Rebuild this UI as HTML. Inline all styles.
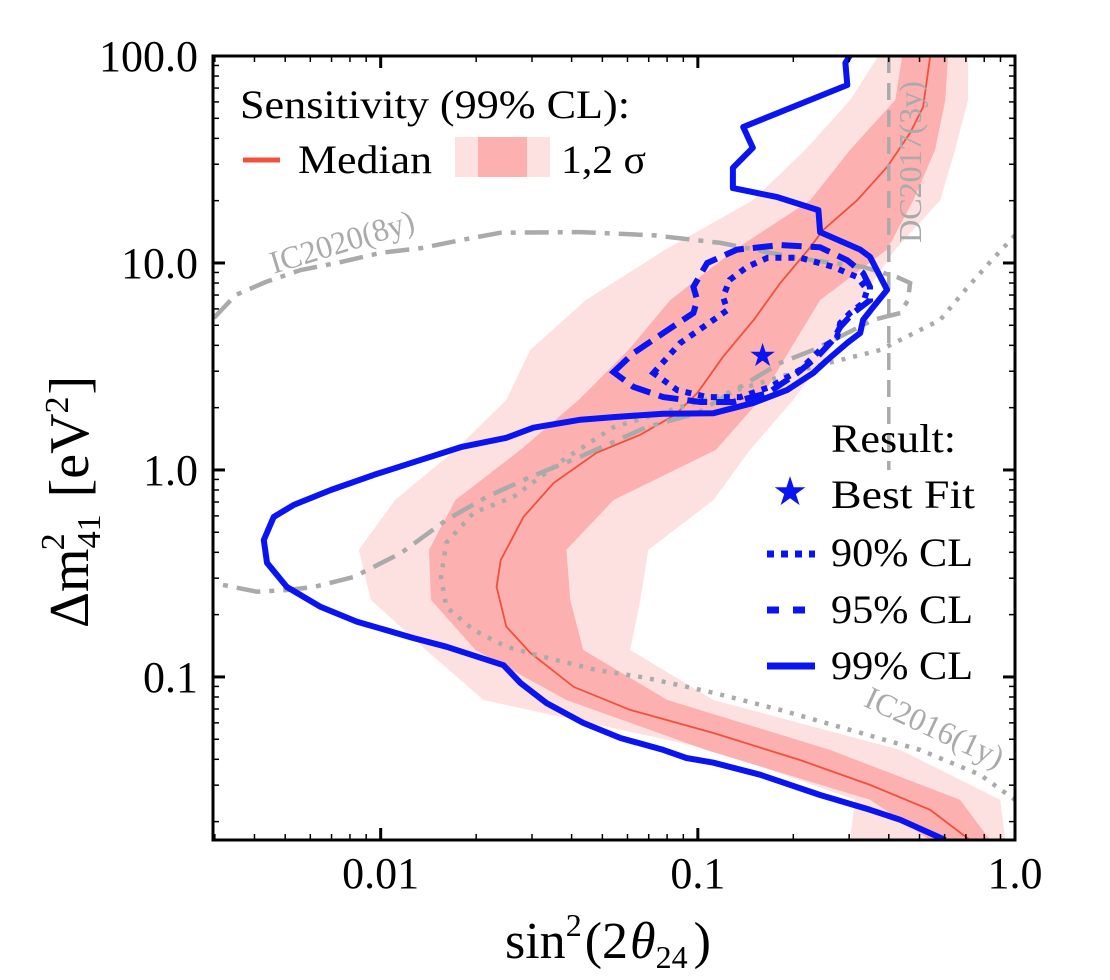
<!DOCTYPE html>
<html><head><meta charset="utf-8"><style>
html,body{margin:0;padding:0;background:#fff;}
svg{display:block;font-family:"Liberation Serif",serif;}
</style></head><body>
<svg id="chart" width="1110" height="980" viewBox="0 0 1110 980">
<defs><clipPath id="pc"><rect x="213" y="56" width="802" height="784"/></clipPath></defs>
<g id="plot" clip-path="url(#pc)"></g>
<g id="axes"></g>
<g id="legend1">
 <text x="240" y="118" font-size="40" textLength="390" lengthAdjust="spacingAndGlyphs">Sensitivity (99% CL):</text>
 <line x1="243" y1="160" x2="280" y2="160" stroke="#f0503c" stroke-width="5"/>
 <text x="298" y="173" font-size="40" textLength="134" lengthAdjust="spacingAndGlyphs">Median</text>
 <rect x="455" y="137" width="95" height="40" fill="#fde1e1"/>
 <rect x="478" y="137" width="49" height="40" fill="#fcb0b0"/>
 <text x="561" y="173" font-size="40" textLength="85" lengthAdjust="spacingAndGlyphs">1,2 σ</text>
</g>
<g id="legend2">
 <text x="831" y="452" font-size="40" textLength="125" lengthAdjust="spacingAndGlyphs">Result:</text>
 <text x="790" y="505" font-size="40" fill="#0a14f0" text-anchor="middle">★</text>
 <text x="831" y="508" font-size="40" textLength="144" lengthAdjust="spacingAndGlyphs">Best Fit</text>
 <line x1="767" y1="554" x2="815" y2="554" stroke="#0a14f0" stroke-width="7" stroke-dasharray="7 7"/>
 <text x="831" y="566" font-size="40" textLength="142" lengthAdjust="spacingAndGlyphs">90% CL</text>
 <line x1="767" y1="610" x2="815" y2="610" stroke="#0a14f0" stroke-width="7" stroke-dasharray="12 14"/>
 <text x="831" y="623" font-size="40" textLength="142" lengthAdjust="spacingAndGlyphs">95% CL</text>
 <line x1="767" y1="666" x2="815" y2="666" stroke="#0a14f0" stroke-width="7"/>
 <text x="831" y="679" font-size="40" textLength="142" lengthAdjust="spacingAndGlyphs">99% CL</text>
</g>
<text x="505" y="958" font-size="52">sin<tspan font-size="32" dy="-22">2</tspan><tspan dy="22" dx="3">(2</tspan><tspan font-style="italic" dx="2">θ</tspan><tspan font-size="32" dy="10">24</tspan><tspan dy="-10" dx="6">)</tspan></text>
<text transform="translate(88,628) rotate(-90)" font-size="56">Δm<tspan font-size="34" dy="12">41</tspan><tspan font-size="34" dx="-36" dy="-36">2</tspan><tspan dy="24" dx="36">[eV</tspan><tspan font-size="34" dy="-20">2</tspan><tspan dy="20" dx="2">]</tspan></text>
</svg>
<script>
// ---- data ----
const xMin = 0.00296, xMax = 1.0, yMin = 0.0163, yMax = 100;
const xTickValues = [0.01, 0.1, 1.0];
const xTickLabels = ["0.01", "0.1", "1.0"];
const yTickValues = [0.1, 1.0, 10.0, 100.0];
const yTickLabels = ["0.1", "1.0", "10.0", "100.0"];
// sensitivity bands: common dm2 levels with band edges in sin2
const bandY = [100,61.2,35.2,20.1,11.6,6.62,3.80,2.18,1.25,0.716,0.411,0.236,0.135,0.0774,0.0444,0.0255,0.0163];
const band2Lo = [0.371,0.302,0.218,0.149,0.0791,0.0443,0.0296,0.0249,0.0172,0.0111,0.00853,0.00931,0.0139,0.0211,0.112,0.313,0.302];
const band1Lo = [0.441,0.419,0.302,0.226,0.131,0.0818,0.0604,0.0421,0.0276,0.0172,0.0142,0.0144,0.0199,0.0385,0.106,0.349,0.540];
const band1Hi = [0.615,0.603,0.560,0.478,0.395,0.243,0.195,0.157,0.114,0.0542,0.0385,0.0396,0.0435,0.0802,0.261,0.671,0.834];
const band2Hi = [0.711,0.711,0.647,0.581,0.419,0.325,0.261,0.200,0.146,0.112,0.0698,0.0659,0.0612,0.112,0.435,0.898,0.931];
const medianX = [0.540,0.513,0.467,0.395,0.318,0.248,0.226,0.182,0.150,0.120,0.0995,0.0849,0.0659,0.0479,0.0351,0.0282,0.0239,0.0232,0.0249,0.0296,0.0406,0.0612,0.112,0.210,0.349,0.540,0.721];
const medianY = [98.9,56.7,42.5,29.1,20.1,14.4,11.9,8.00,5.31,3.52,2.35,1.85,1.48,1.21,0.865,0.593,0.367,0.272,0.175,0.131,0.0895,0.0693,0.0536,0.0397,0.0301,0.0228,0.0163];
const cl99X = [0.302,0.292,0.296,0.139,0.149,0.129,0.129,0.178,0.240,0.243,0.325,0.349,0.395,0.357,0.332,0.325,0.296,0.256,0.231,0.191,0.150,0.112,0.0778,0.0542,0.0427,0.0303,0.0249,0.0179,0.0127,0.00951,0.00696,0.00532,0.00460,0.00428,0.00438,0.00506,0.00647,0.00840,0.0127,0.0161,0.0244,0.0276,0.0333,0.0435,0.0570,0.0778,0.0920,0.112,0.157,0.243,0.349,0.435,0.603];
const cl99Y = [101,92.5,72.4,45.4,36.0,28.8,23.0,20.8,18.0,14.1,11.6,10.7,7.41,6.12,5.31,4.59,4.11,3.40,2.94,2.43,2.11,1.88,1.87,1.80,1.75,1.60,1.43,1.29,1.09,0.946,0.800,0.678,0.593,0.459,0.356,0.272,0.218,0.185,0.154,0.140,0.114,0.0935,0.0748,0.0600,0.0507,0.0444,0.0406,0.0385,0.0337,0.0269,0.0228,0.0204,0.0163];
const cl95X = [0.0542,0.0627,0.0778,0.0968,0.0995,0.0968,0.107,0.133,0.182,0.243,0.296,0.332,0.349,0.349,0.309,0.281,0.267,0.238,0.206,0.166,0.129,0.102,0.0778,0.0627];
const cl95Y = [2.97,3.67,4.59,5.73,6.62,7.66,10.0,11.6,12.2,11.9,10.3,8.95,7.66,6.62,5.73,4.91,4.25,3.52,2.94,2.35,2.13,2.13,2.25,2.52];
const cl90X = [0.0724,0.0881,0.112,0.124,0.120,0.126,0.143,0.166,0.210,0.267,0.318,0.342,0.332,0.302,0.281,0.275,0.243,0.210,0.169,0.136,0.107,0.0861];
const cl90Y = [2.94,4.11,5.31,5.93,6.85,8.28,9.57,10.6,10.6,9.57,8.55,7.41,6.41,5.73,5.13,4.39,3.80,3.04,2.52,2.25,2.25,2.43];
const bestFitX = 0.16, bestFitY = 3.6;
const ic2020X = [0.00298,0.00349,0.00434,0.00560,0.00748,0.0100,0.0134,0.0179,0.0239,0.0427,0.0724,0.118,0.169,0.231,0.332,0.425,0.467,0.460,0.435,0.357,0.296,0.231,0.182,0.136,0.0995,0.0689,0.0427,0.0296,0.0216,0.0161,0.0116,0.00822,0.00615,0.00506,0.00407,0.00298];
const ic2020Y = [5.42,7.00,8.09,9.25,10.1,11.2,11.8,12.9,14.0,14.1,13.6,12.5,11.2,10.3,9.57,8.55,8.00,6.62,5.73,5.31,4.59,3.80,3.29,2.52,1.88,1.61,1.16,0.925,0.741,0.573,0.397,0.304,0.272,0.263,0.258,0.284];
const ic2016X = [1.0,0.834,0.697,0.581,0.376,0.231,0.143,0.0881,0.0542,0.0377,0.0262,0.0196,0.0161,0.0155,0.0161,0.0196,0.0249,0.0333,0.0479,0.0689,0.112,0.182,0.302,0.502,0.776,1.0];
const ic2016Y = [13.6,10.1,7.41,5.31,3.80,3.15,2.52,2.01,1.61,1.12,0.741,0.620,0.444,0.304,0.218,0.169,0.140,0.124,0.108,0.0989,0.0838,0.0693,0.0555,0.0444,0.0337,0.0255];
const dc2017X = 0.4, dc2017Ytop = 100, dc2017Ybot = 1.0;

// ---- scales ----
const L=213,R=1015,T=56,B=840;
function sx(v){return L+(Math.log10(v)-Math.log10(xMin))/(Math.log10(xMax)-Math.log10(xMin))*(R-L);}
function sy(v){return B-(Math.log10(v)-Math.log10(yMin))/(Math.log10(yMax)-Math.log10(yMin))*(B-T);}
const NS="http://www.w3.org/2000/svg";
function mk(tag,attrs,parent){const e=document.createElementNS(NS,tag);for(const k in attrs)e.setAttribute(k,attrs[k]);parent.appendChild(e);return e;}
function pts(xs,ys){return xs.map((x,i)=>sx(x).toFixed(1)+","+sy(ys[i]).toFixed(1)).join(" ");}
const plot=document.getElementById('plot'), axes=document.getElementById('axes');

const b2 = mk('polygon',{points:pts(band2Lo,bandY)+" "+pts(band2Hi.slice().reverse(),bandY.slice().reverse()),fill:'#fde1e1'},plot);


const b1 = mk('polygon',{points:pts(band1Lo,bandY)+" "+pts(band1Hi.slice().reverse(),bandY.slice().reverse()),fill:'#fcb0b0'},plot);


const med = mk('polyline',{points:pts(medianX,medianY),fill:'none',stroke:'#f0503c','stroke-width':1.8},plot);


const dc = mk('line',{x1:sx(dc2017X),y1:sy(dc2017Ytop),x2:sx(dc2017X),y2:sy(dc2017Ybot),stroke:'#aaaaaa','stroke-width':3.5,'stroke-dasharray':'17 10'},plot);


const ic20 = mk('polyline',{points:pts(ic2020X,ic2020Y),fill:'none',stroke:'#aaaaaa','stroke-width':4.5,'stroke-dasharray':'24 9 5 9'},plot);


const ic16 = mk('polyline',{points:pts(ic2016X,ic2016Y),fill:'none',stroke:'#aaaaaa','stroke-width':4.5,'stroke-dasharray':'4 8'},plot);


const c99 = mk('polyline',{points:pts(cl99X,cl99Y),fill:'none',stroke:'#0a14f0','stroke-width':6,'stroke-linejoin':'round'},plot);


const c95 = mk('polygon',{points:pts(cl95X,cl95Y),fill:'none',stroke:'#0a14f0','stroke-width':6,'stroke-dasharray':'20 9'},plot);


const c90 = mk('polygon',{points:pts(cl90X,cl90Y),fill:'none',stroke:'#0a14f0','stroke-width':6,'stroke-dasharray':'6 7'},plot);


const bf = mk('text',{x:sx(bestFitX),y:sy(bestFitY)+11,'font-size':32,fill:'#0a14f0','text-anchor':'middle'},plot);
bf.textContent='★';


const t1 = mk('text',{x:0,y:0,'font-size':32,fill:'#aaaaaa','text-anchor':'middle',transform:'translate(345,252) rotate(-17)'},plot);
t1.textContent='IC2020(8y)';


const t2 = mk('text',{x:0,y:0,'font-size':32,fill:'#aaaaaa','text-anchor':'middle',transform:'translate(930,737) rotate(25)'},plot);
t2.textContent='IC2016(1y)';


const t3 = mk('text',{x:0,y:0,'font-size':32,fill:'#aaaaaa','text-anchor':'middle',transform:'translate(921,162) rotate(-90)'},plot);
t3.textContent='DC2017(3y)';



const fr = mk('rect',{x:L,y:T,width:R-L,height:B-T,fill:'none',stroke:'#000','stroke-width':3},axes);


function tick(x1,y1,x2,y2,w){const t=mk('line',{x1,y1,x2,y2,stroke:'#000','stroke-width':w},axes);}
for(let d=-3; d<=0; d++){for(let m=1;m<10;m++){const v=m*Math.pow(10,d);if(v<xMin*0.999||v>xMax*1.001)continue;const X=sx(v);const len=m===1?12:6;const w=m===1?3:1.5;tick(X,B,X,B-len,w);tick(X,T,X,T+len,w);}}
for(let d=-2; d<=2; d++){for(let m=1;m<10;m++){const v=m*Math.pow(10,d);if(v<yMin*0.999||v>yMax*1.001)continue;const Y=sy(v);const len=m===1?12:6;const w=m===1?3:1.5;tick(L,Y,L+len,Y,w);tick(R,Y,R-len,Y,w);}}
xTickValues.forEach((v,i)=>{const t=mk('text',{x:sx(v),y:888,'font-size':44,'text-anchor':'middle'},axes);t.textContent=xTickLabels[i];});
yTickValues.forEach((v,i)=>{const t=mk('text',{x:198,y:sy(v)+15,'font-size':44,'text-anchor':'end'},axes);t.textContent=yTickLabels[i];});
</script>
</body></html>
